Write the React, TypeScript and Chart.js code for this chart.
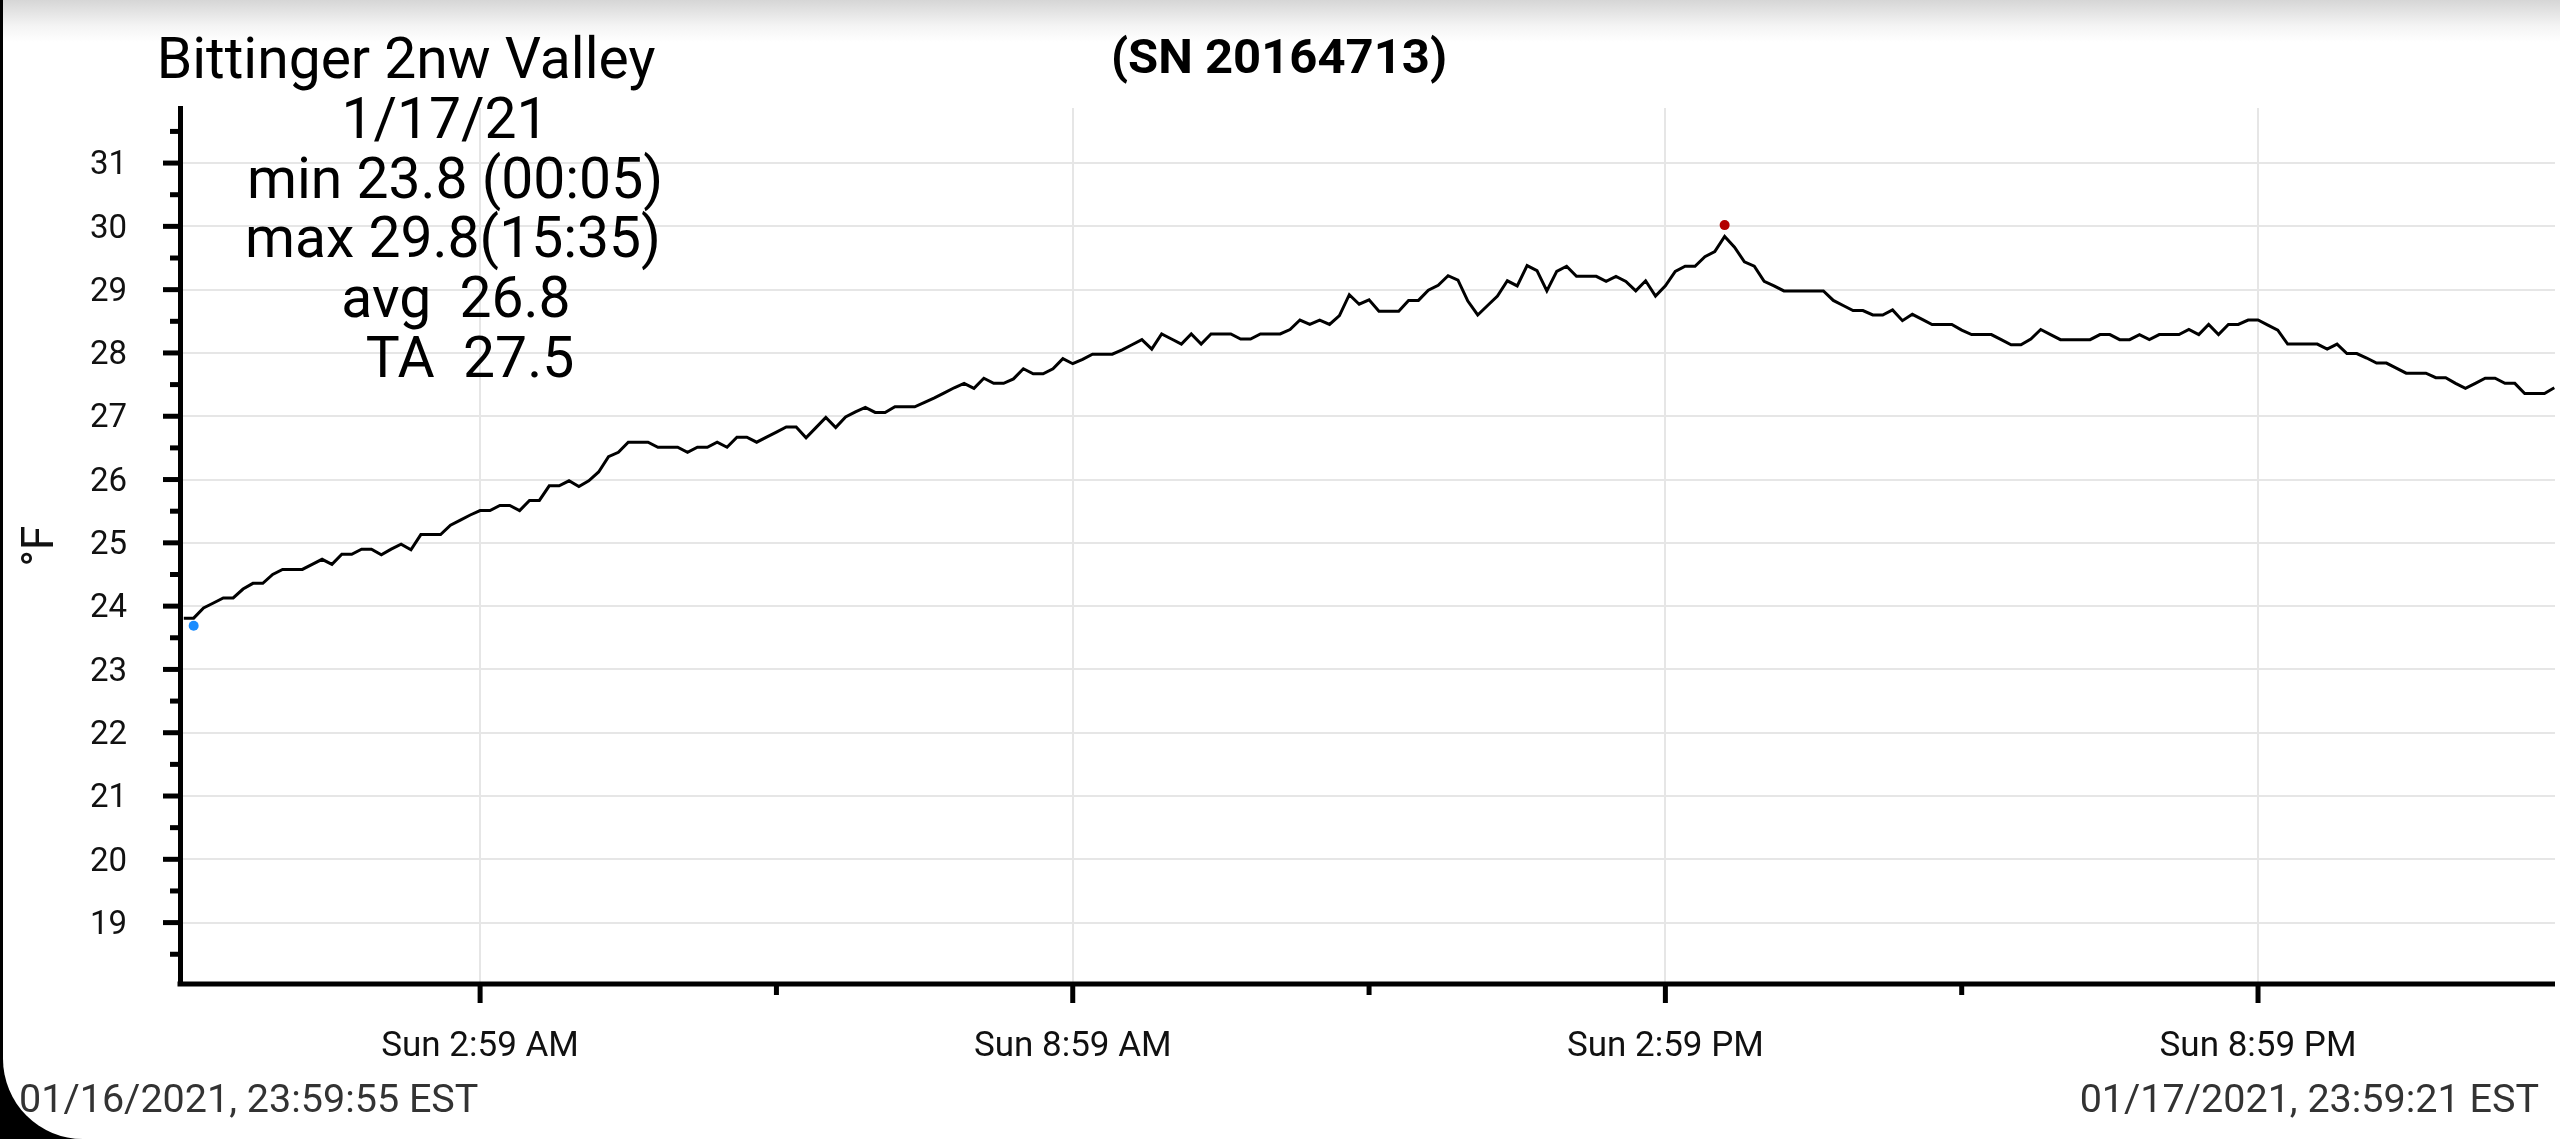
import React, { useEffect, useRef } from 'react';
import { Chart, registerables } from 'chart.js';

Chart.register(...registerables);

// ---- data ----
// readings every 6 minutes, first one at 23:59 on 01/16 (hours relative to 01/17 00:00)
const SAMPLE_START_HOUR = -1 / 60;
const SAMPLE_STEP_HOUR = 0.1;
const TEMPS_F = [
  23.81, 23.81, 23.97, 24.05, 24.13, 24.13, 24.27, 24.36, 24.36, 24.5,
  24.58, 24.58, 24.58, 24.66, 24.74, 24.66, 24.82, 24.82, 24.9, 24.9,
  24.81, 24.9, 24.98, 24.89, 25.13, 25.13, 25.13, 25.28, 25.36, 25.44,
  25.51, 25.51, 25.59, 25.59, 25.51, 25.67, 25.67, 25.9, 25.9, 25.98,
  25.89, 25.98, 26.12, 26.36, 26.43, 26.59, 26.59, 26.59, 26.51, 26.51,
  26.51, 26.43, 26.51, 26.51, 26.59, 26.51, 26.67, 26.67, 26.59, 26.67,
  26.75, 26.83, 26.83, 26.66, 26.82, 26.98, 26.82, 26.99, 27.07, 27.14,
  27.06, 27.06, 27.15, 27.15, 27.15, 27.22, 27.29, 27.37, 27.45, 27.52,
  27.44, 27.6, 27.52, 27.52, 27.59, 27.75, 27.67, 27.67, 27.75, 27.91,
  27.83, 27.9, 27.98, 27.98, 27.98, 28.05, 28.13, 28.21, 28.06, 28.3,
  28.22, 28.14, 28.3, 28.14, 28.3, 28.3, 28.3, 28.22, 28.22, 28.3,
  28.3, 28.3, 28.37, 28.52, 28.45, 28.52, 28.45, 28.59, 28.92, 28.77,
  28.84, 28.66, 28.66, 28.66, 28.83, 28.83, 28.99, 29.07, 29.22, 29.15,
  28.82, 28.6, 28.75, 28.9, 29.14, 29.06, 29.38, 29.3, 28.98, 29.29,
  29.37, 29.21, 29.21, 29.21, 29.13, 29.21, 29.13, 28.98, 29.14, 28.9,
  29.06, 29.29, 29.37, 29.37, 29.52, 29.6, 29.84, 29.67, 29.44, 29.37,
  29.13, 29.06, 28.98, 28.98, 28.98, 28.98, 28.98, 28.83, 28.75, 28.67,
  28.67, 28.6, 28.6, 28.68, 28.51, 28.61, 28.53, 28.45, 28.45, 28.45,
  28.36, 28.29, 28.29, 28.29, 28.21, 28.13, 28.13, 28.22, 28.37, 28.29,
  28.21, 28.21, 28.21, 28.21, 28.29, 28.29, 28.21, 28.21, 28.29, 28.21,
  28.29, 28.29, 28.29, 28.37, 28.29, 28.45, 28.29, 28.45, 28.45, 28.52,
  28.52, 28.44, 28.36, 28.14, 28.14, 28.14, 28.14, 28.06, 28.14, 27.99,
  27.99, 27.92, 27.84, 27.84, 27.76, 27.68, 27.68, 27.68, 27.61, 27.61,
  27.52, 27.44, 27.52, 27.6, 27.6, 27.52, 27.52, 27.36, 27.36, 27.36,
  27.45,
];

// min / max markers (hour of day, plotted value, colour)
const MARKER_HOURS = [5 / 60, 15 + 35 / 60];
const MARKER_VALUES = [23.69, 30.02];
const MARKER_COLORS = ['#1a8cff', '#b30000'];

// axes
const X_MIN = -0.055;
const X_MAX = 23.99;
const X_TICK_HOURS = [2 + 59 / 60, 5 + 59 / 60, 8 + 59 / 60, 11 + 59 / 60, 14 + 59 / 60, 17 + 59 / 60, 20 + 59 / 60];
const X_TICK_LABELS = ['Sun 2:59 AM', '', 'Sun 8:59 AM', '', 'Sun 2:59 PM', '', 'Sun 8:59 PM'];
const Y_MIN = 18.03;
const Y_MAX = 31.87;
const Y_TICKS = [18.5, 19, 19.5, 20, 20.5, 21, 21.5, 22, 22.5, 23, 23.5, 24, 24.5, 25, 25.5, 26, 26.5, 27, 27.5, 28, 28.5, 29, 29.5, 30, 30.5, 31, 31.5];

// texts
const TITLE = '(SN 20164713)';
const INFO_LINES = ['Bittinger 2nw Valley', '1/17/21', 'min 23.8 (00:05)', 'max 29.8(15:35)', 'avg  26.8', 'TA  27.5'];
const INFO_CENTERS = [406, 445, 455, 453, 456, 470];
const FOOTER_LEFT = '01/16/2021, 23:59:55 EST';
const FOOTER_RIGHT = '01/17/2021, 23:59:21 EST';
const Y_TITLE = '°F';

const W = 2560;
const H = 1139;
const GRID = '#e6e6e6';
const FONT = 'Roboto';

const axisMarks = {
  id: 'axisMarks',
  afterDraw(chart: any) {
    const { ctx, chartArea, scales, width, height } = chart;
    ctx.save();
    // keep the strip right of the plot, under the axis, clean
    ctx.fillStyle = '#fff';
    ctx.fillRect(chartArea.right - 6, chartArea.bottom + 3, width - chartArea.right + 6, height - chartArea.bottom);
    ctx.strokeStyle = '#000';
    ctx.lineCap = 'butt';
    // x axis line
    ctx.lineWidth = 5;
    ctx.beginPath();
    ctx.moveTo(chartArea.left - 2.5, chartArea.bottom);
    ctx.lineTo(chartArea.right, chartArea.bottom);
    ctx.stroke();
    const ys = scales.y;
    ys.ticks.forEach((t: any) => {
      const py = ys.getPixelForValue(t.value);
      const len = Number.isInteger(t.value) ? 17 : 10;
      ctx.beginPath();
      ctx.moveTo(chartArea.left - len, py);
      ctx.lineTo(chartArea.left, py);
      ctx.stroke();
    });
    const xs = scales.x;
    xs.ticks.forEach((t: any, i: number) => {
      const px = xs.getPixelForValue(t.value);
      const len = i % 2 === 0 ? 19 : 11;
      ctx.beginPath();
      ctx.moveTo(px, chartArea.bottom);
      ctx.lineTo(px, chartArea.bottom + len);
      ctx.stroke();
    });
    ctx.restore();
  },
};

const texts = {
  id: 'texts',
  afterDraw(chart: any) {
    const { ctx } = chart;
    ctx.save();
    ctx.textBaseline = 'alphabetic';
    ctx.fillStyle = '#000';
    ctx.textAlign = 'center';
    ctx.font = `bold 49px ${FONT}`;
    ctx.fillText(TITLE, 1279, 73);
    ctx.font = `57px ${FONT}`;
    INFO_LINES.forEach((line, i) => {
      ctx.fillText(line, INFO_CENTERS[i], 78 + i * 59.8);
    });
    ctx.font = `39.5px ${FONT}`;
    ctx.fillStyle = '#333';
    ctx.textAlign = 'left';
    ctx.fillText(FOOTER_LEFT, 19, 1112);
    ctx.textAlign = 'right';
    ctx.fillText(FOOTER_RIGHT, 2539, 1112);
    ctx.restore();
  },
};

export default function App() {
  const ref = useRef<HTMLCanvasElement | null>(null);

  useEffect(() => {
    if (!ref.current) return;
    const lineData = TEMPS_F.map((v, i) => ({ x: SAMPLE_START_HOUR + i * SAMPLE_STEP_HOUR, y: v }));
    const markerData = MARKER_HOURS.map((h, i) => ({ x: h, y: MARKER_VALUES[i] }));
    const chart = new Chart(ref.current, {
      type: 'line',
      data: {
        datasets: [
          { data: lineData, borderColor: '#000', borderWidth: 3, pointRadius: 0, tension: 0, fill: false },
          {
            data: markerData,
            showLine: false,
            pointRadius: 5,
            pointBorderWidth: 0,
            pointBackgroundColor: MARKER_COLORS,
            pointBorderColor: MARKER_COLORS,
          },
        ],
      },
      options: {
        animation: false,
        responsive: false,
        devicePixelRatio: 1,
        events: [],
        layout: { padding: { top: 108, right: 4, left: 0, bottom: 0 } },
        plugins: { legend: { display: false }, tooltip: { enabled: false }, title: { display: false } },
        scales: {
          x: {
            type: 'linear',
            min: X_MIN,
            max: X_MAX,
            afterBuildTicks: (scale: any) => {
              scale.ticks = X_TICK_HOURS.map((v) => ({ value: v }));
            },
            afterFit: (scale: any) => {
              scale.height = 155;
            },
            ticks: {
              autoSkip: false,
              maxRotation: 0,
              padding: 42,
              color: '#111',
              font: { family: FONT, size: 35 },
              callback: (_v: any, i: number) => X_TICK_LABELS[i],
            },
            grid: {
              color: (c: any) => (c.index % 2 === 0 ? GRID : 'transparent'),
              lineWidth: 2,
              drawTicks: false,
            },
            border: { display: false },
          },
          y: {
            type: 'linear',
            min: Y_MIN,
            max: Y_MAX,
            afterBuildTicks: (scale: any) => {
              scale.ticks = Y_TICKS.map((v) => ({ value: v }));
            },
            afterFit: (scale: any) => {
              scale.width = 180;
            },
            ticks: {
              autoSkip: false,
              padding: 36,
              labelOffset: 3,
              color: '#111',
              font: { family: FONT, size: 33 },
              callback: (v: any) => (Number.isInteger(v) ? String(v) : ''),
            },
            grid: {
              color: (c: any) => (c.tick && Number.isInteger(c.tick.value) ? GRID : 'transparent'),
              lineWidth: 2,
              drawTicks: true,
              tickLength: 17,
              tickColor: 'transparent',
            },
            border: { display: true, color: '#000', width: 5 },
            title: {
              display: true,
              text: Y_TITLE,
              color: '#111',
              font: { family: FONT, size: 44 },
              padding: { top: 16, bottom: 0 },
            },
          },
        },
      },
      plugins: [axisMarks, texts],
    } as any);
    return () => chart.destroy();
  }, []);

  return (
    <div style={{ position: 'fixed', left: 0, top: 0, width: W, height: H, background: '#fff', overflow: 'hidden' }}>
      <div style={{ position: 'absolute', left: 0, top: 0, width: 3, height: H, background: '#000' }} />
      <div style={{ position: 'absolute', left: 0, top: H - 90, width: 90, height: 90, background: '#000' }} />
      <div
        style={{
          position: 'absolute',
          left: 3,
          top: 0,
          width: W - 3,
          height: H,
          background: 'linear-gradient(#d6d6d6 0px, #f4f4f4 26px, #ffffff 42px, #ffffff 100%)',
          borderBottomLeftRadius: 80,
        }}
      />
      <canvas ref={ref} width={W} height={H} style={{ position: 'absolute', left: 0, top: 0, width: W, height: H }} />
    </div>
  );
}
